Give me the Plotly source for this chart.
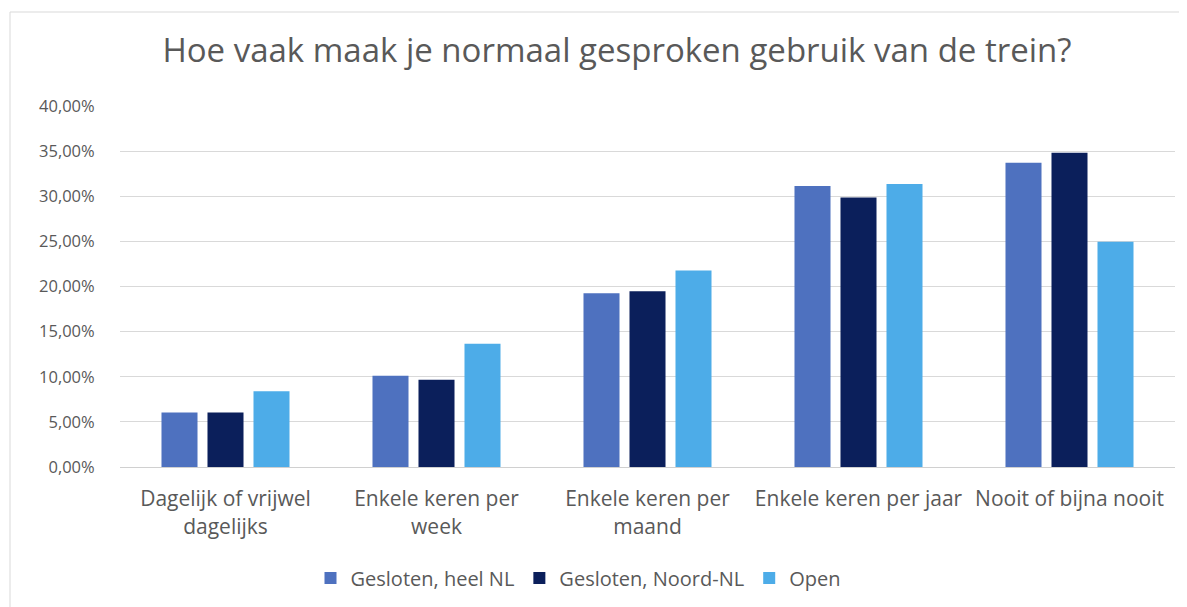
import plotly.graph_objects as go

categories = ["Dagelijk of vrijwel<br>dagelijks", "Enkele keren per<br>week", "Enkele keren per<br>maand",
              "Enkele keren per jaar", "Nooit of bijna nooit"]
series_names = ["Gesloten, heel NL", "Gesloten, Noord-NL", "Open"]
gesloten_heel_nl = [0.0605, 0.1012, 0.1924, 0.3113, 0.3372]
gesloten_noord_nl = [0.0605, 0.0967, 0.1946, 0.2987, 0.3483]
open_vals = [0.0838, 0.1366, 0.2178, 0.3136, 0.2496]
colors = ["#4E71BF", "#0B1F5B", "#4DACE8"]
y_ticks = [0, 0.05, 0.10, 0.15, 0.20, 0.25, 0.30, 0.35, 0.40]

FONT = "'Open Sans', sans-serif"
GREY = "#595959"

fig = go.Figure()
for name, vals, col in zip(series_names, [gesloten_heel_nl, gesloten_noord_nl, open_vals], colors):
    fig.add_trace(go.Bar(name=name, x=categories, y=vals, marker=dict(color=col, line=dict(width=0))))

# page has an 8px body margin; figure sized to fit the window
OFF = 8
W, H = 1187 - OFF, 607 - OFF
L, T = 120 - OFF, 106 - OFF
R = W - (1175 - OFF)
B = H - (467 - OFF)
pw, ph = W - L - R, H - T - B

fig.update_layout(
    width=W, height=H,
    margin=dict(l=L, r=R, t=T, b=B, autoexpand=False),
    paper_bgcolor="white", plot_bgcolor="white",
    separators=",.",
    barmode="group", bargap=0.346, bargroupgap=0.217,
    font=dict(family=FONT, color=GREY, size=17),
    title=dict(text="Hoe vaak maak je normaal gesproken gebruik van de trein?",
               x=(617 - OFF) / W, xanchor="center", xref="container",
               y=1 - (50 - OFF) / H, yanchor="middle", yref="container",
               font=dict(family=FONT, size=33, color=GREY)),
    legend=dict(orientation="h", x=(578 - OFF) / W, xanchor="center",
                xref="container", y=1 - (578 - OFF) / H, yref="container", yanchor="middle",
                font=dict(size=20, color=GREY), traceorder="normal", itemwidth=30),
    showlegend=True,
    shapes=[dict(type="rect", xref="paper", yref="paper",
                 x0=(10 - 120) / pw, x1=(W + 40 - L) / pw,
                 y0=-(H + 40 - (T + ph)) / ph, y1=(467 - 12) / ph,
                 line=dict(color="#D9D9D9", width=1), fillcolor="rgba(0,0,0,0)", layer="below")],
)
fig.update_xaxes(showgrid=False, showline=False, ticks="outside", ticklen=13, tickcolor="rgba(0,0,0,0)",
                 tickfont=dict(size=21, color=GREY), fixedrange=True)
fig.update_yaxes(range=[0, 0.40], tickvals=y_ticks, tickformat=".2%", showgrid=True,
                 gridcolor="#D9D9D9", gridwidth=1, zeroline=True, zerolinecolor="#D0D0D0",
                 zerolinewidth=1, showline=False, ticks="outside", ticklen=21,
                 tickcolor="rgba(0,0,0,0)", tickfont=dict(size=16.5, color=GREY))

fig.write_html("out.html")
